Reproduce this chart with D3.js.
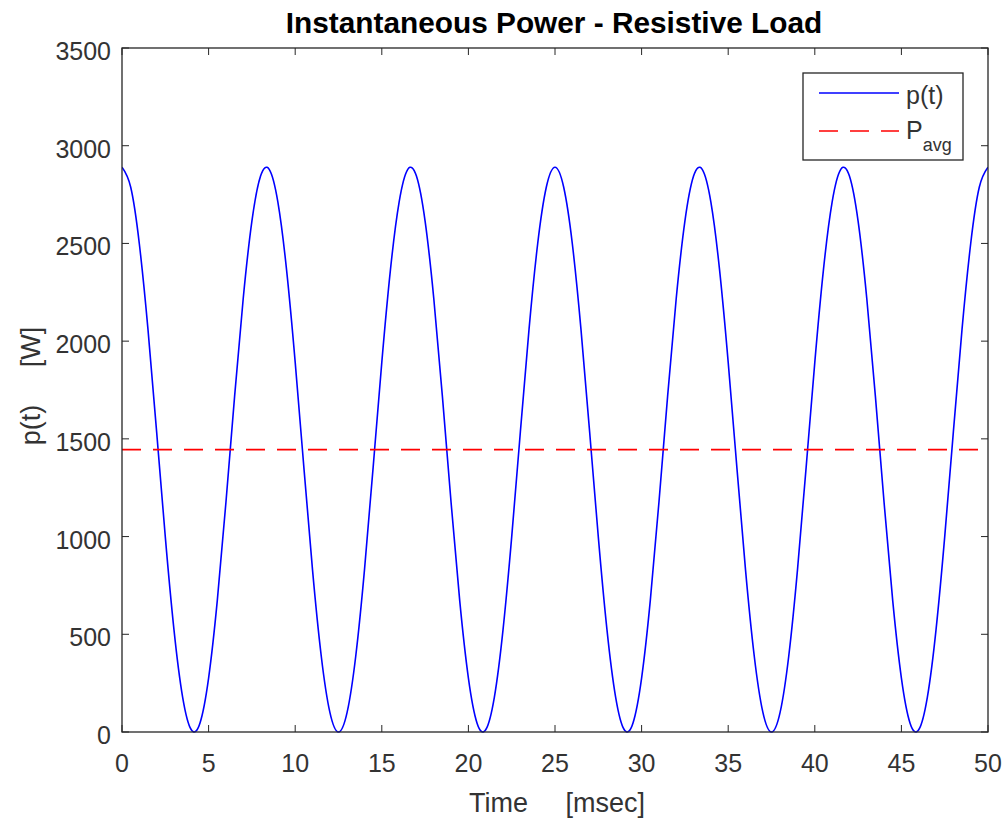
<!DOCTYPE html>
<html>
<head>
<meta charset="utf-8">
<script src="https://cdn.jsdelivr.net/npm/d3@7"></script>
<style>
  body { margin: 0; background: #fff; }
  svg { display: block; font-family: "Liberation Sans", Arial, sans-serif; }
</style>
</head>
<body>
<svg id="chart" width="1007" height="819"></svg>
<script>
// sample times in msec
const times = [
  0, 0.5, 1, 1.5, 2, 2.5, 3, 3.5, 4, 4.5, 5, 5.5, 6, 6.5, 7, 7.5, 8, 8.5, 9, 9.5,
  10, 10.5, 11, 11.5, 12, 12.5, 13, 13.5, 14, 14.5, 15, 15.5, 16, 16.5, 17, 17.5, 18, 18.5, 19, 19.5,
  20, 20.5, 21, 21.5, 22, 22.5, 23, 23.5, 24, 24.5, 25, 25.5, 26, 26.5, 27, 27.5, 28, 28.5, 29, 29.5,
  30, 30.5, 31, 31.5, 32, 32.5, 33, 33.5, 34, 34.5, 35, 35.5, 36, 36.5, 37, 37.5, 38, 38.5, 39, 39.5,
  40, 40.5, 41, 41.5, 42, 42.5, 43, 43.5, 44, 44.5, 45, 45.5, 46, 46.5, 47, 47.5, 48, 48.5, 49, 49.5,
  50
];

// instantaneous power p(t) in W
const power = [
  2890, 2788.5, 2498.4, 2060.3, 1535.7, 998.5, 523.9, 178.7, 11.4, 45.4,
  276.0, 670.7, 1174.2, 1715.8, 2219.3, 2614.0, 2844.6, 2878.6, 2711.3, 2366.1,
  1891.5, 1354.3, 829.7, 391.6, 101.5, 0, 101.5, 391.6, 829.7, 1354.3,
  1891.5, 2366.1, 2711.3, 2878.6, 2844.6, 2614.0, 2219.3, 1715.8, 1174.2, 670.7,
  276.0, 45.4, 11.4, 178.7, 523.9, 998.5, 1535.7, 2060.3, 2498.4, 2788.5,
  2890,
  2788.5, 2498.4, 2060.3, 1535.7, 998.5, 523.9, 178.7, 11.4, 45.4,
  276.0, 670.7, 1174.2, 1715.8, 2219.3, 2614.0, 2844.6, 2878.6, 2711.3, 2366.1,
  1891.5, 1354.3, 829.7, 391.6, 101.5, 0, 101.5, 391.6, 829.7, 1354.3,
  1891.5, 2366.1, 2711.3, 2878.6, 2844.6, 2614.0, 2219.3, 1715.8, 1174.2, 670.7,
  276.0, 45.4, 11.4, 178.7, 523.9, 998.5, 1535.7, 2060.3, 2498.4, 2788.5,
  2890
];

const pAvg = 1445;

const xTicks = [0, 5, 10, 15, 20, 25, 30, 35, 40, 45, 50];
const yTicks = [0, 500, 1000, 1500, 2000, 2500, 3000, 3500];

const margin = { top: 48, left: 122 };
const width = 866;
const height = 684;
const axisColor = '#262626';
const labelColor = '#333';
const tickLen = 7;

const svg = d3.select('#chart');

const x = d3.scaleLinear().domain([0, 50]).range([0, width]);
const y = d3.scaleLinear().domain([0, 3500]).range([height, 0]);

const chart = svg.append('g').attr('transform', `translate(${margin.left},${margin.top})`);

chart.append('clipPath').attr('id', 'plot-clip')
  .append('rect').attr('x', 0).attr('y', -2).attr('width', width).attr('height', height + 4);

// ticks on all four sides, pointing inwards
const ticks = chart.append('g').attr('stroke', axisColor).attr('stroke-width', 1);
xTicks.forEach(t => {
  ticks.append('line').attr('x1', x(t)).attr('x2', x(t)).attr('y1', height).attr('y2', height - tickLen);
  ticks.append('line').attr('x1', x(t)).attr('x2', x(t)).attr('y1', 0).attr('y2', tickLen);
});
yTicks.forEach(v => {
  ticks.append('line').attr('x1', 0).attr('x2', tickLen).attr('y1', y(v)).attr('y2', y(v));
  ticks.append('line').attr('x1', width).attr('x2', width - tickLen).attr('y1', y(v)).attr('y2', y(v));
});

// tick labels
chart.append('g').selectAll('text')
  .data(xTicks)
  .enter()
  .append('text')
  .attr('x', d => x(d))
  .attr('y', height + 40)
  .attr('text-anchor', 'middle')
  .attr('font-size', '25px')
  .attr('fill', labelColor)
  .text(d => d);

chart.append('g').selectAll('text')
  .data(yTicks)
  .enter()
  .append('text')
  .attr('x', -11)
  .attr('y', d => y(d) + 12)
  .attr('text-anchor', 'end')
  .attr('font-size', '25px')
  .attr('fill', labelColor)
  .text(d => d);

// data lines
const plot = chart.append('g').attr('clip-path', 'url(#plot-clip)');

const line = d3.line()
  .x((d, i) => x(times[i]))
  .y(d => y(d))
  .curve(d3.curveNatural);

plot.append('path')
  .datum(power)
  .attr('d', line)
  .attr('fill', 'none')
  .attr('stroke', '#0000ff')
  .attr('stroke-width', 1.6);

plot.append('line')
  .attr('x1', x(0)).attr('x2', x(50))
  .attr('y1', y(pAvg)).attr('y2', y(pAvg))
  .attr('stroke', '#ff0000')
  .attr('stroke-width', 1.6)
  .attr('stroke-dasharray', '19,12');

// box
chart.append('rect')
  .attr('width', width).attr('height', height)
  .attr('fill', 'none')
  .attr('stroke', axisColor)
  .attr('stroke-width', 1.3);

// title and axis labels
svg.append('text')
  .attr('x', 554).attr('y', 33)
  .attr('text-anchor', 'middle')
  .attr('font-size', '29.8px')
  .attr('font-weight', 'bold')
  .attr('fill', '#000')
  .text('Instantaneous Power - Resistive Load');

svg.append('text')
  .attr('x', 557).attr('y', 812)
  .attr('text-anchor', 'middle')
  .attr('font-size', '27px')
  .attr('fill', labelColor)
  .style('white-space', 'pre')
  .text('Time     [msec]');

svg.append('text')
  .attr('transform', 'translate(40,386) rotate(-90)')
  .attr('text-anchor', 'middle')
  .attr('font-size', '27px')
  .attr('fill', labelColor)
  .style('white-space', 'pre')
  .text('p(t)     [W]');

// legend
const legend = svg.append('g');
legend.append('rect')
  .attr('x', 803).attr('y', 73).attr('width', 160).attr('height', 87)
  .attr('fill', '#fff')
  .attr('stroke', axisColor)
  .attr('stroke-width', 1.3);

legend.append('line')
  .attr('x1', 819).attr('x2', 899).attr('y1', 93).attr('y2', 93)
  .attr('stroke', '#0000ff').attr('stroke-width', 1.6);
legend.append('text')
  .attr('x', 906).attr('y', 104)
  .attr('font-size', '25px')
  .attr('fill', labelColor)
  .text('p(t)');

legend.append('line')
  .attr('x1', 819).attr('x2', 899).attr('y1', 131).attr('y2', 131)
  .attr('stroke', '#ff0000').attr('stroke-width', 1.6)
  .attr('stroke-dasharray', '19,12');
const pa = legend.append('text')
  .attr('x', 906).attr('y', 139)
  .attr('font-size', '25px')
  .attr('fill', labelColor);
pa.append('tspan').text('P');
pa.append('tspan').attr('dy', 12).attr('font-size', '18px').text('avg');
</script>
</body>
</html>
